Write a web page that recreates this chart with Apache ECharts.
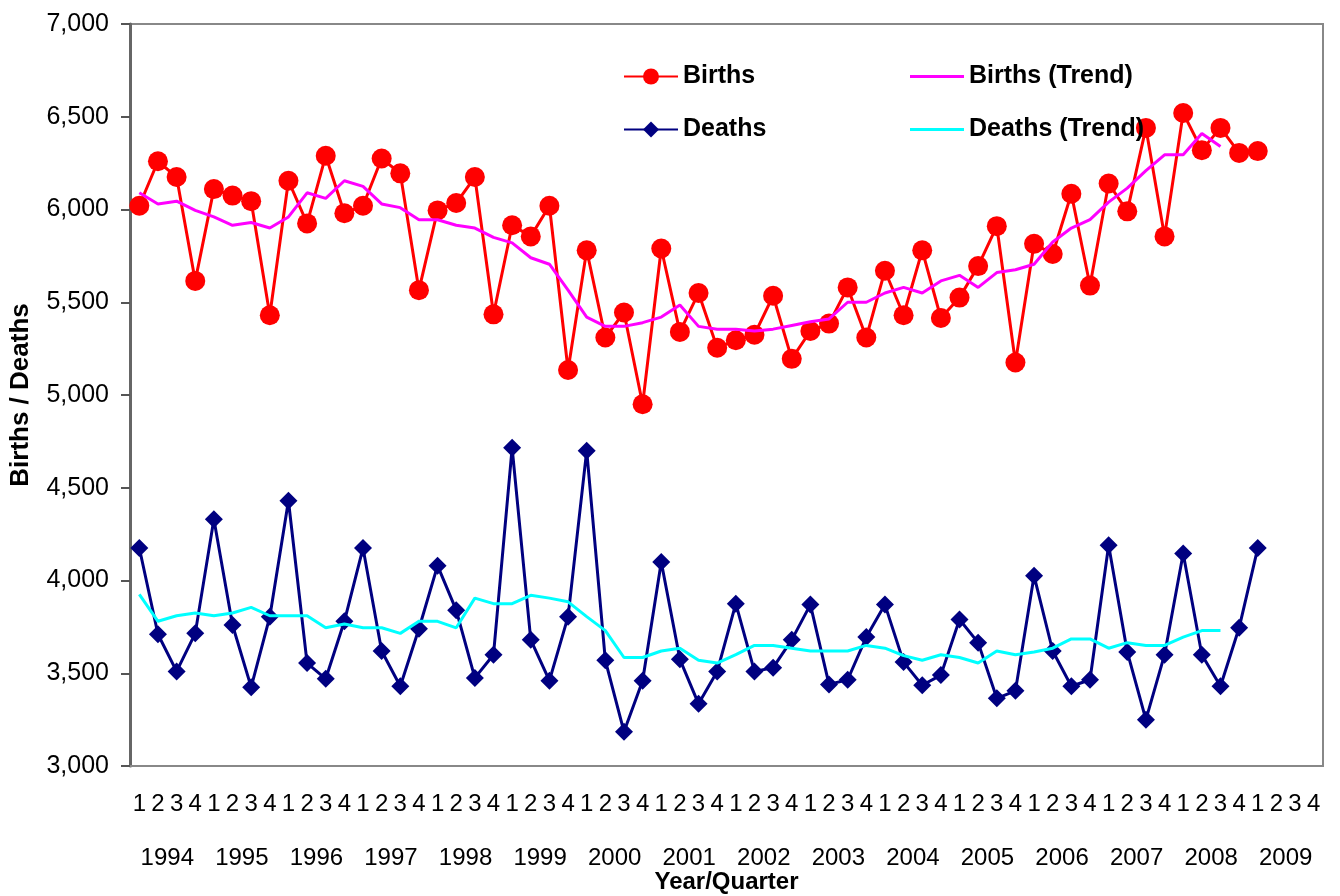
<!DOCTYPE html>
<html>
<head>
<meta charset="utf-8">
<script src="https://cdn.jsdelivr.net/npm/echarts@6/dist/echarts.min.js"></script>
<style>html,body{margin:0;padding:0;background:#fff}#c{width:1340px;height:896px}</style>
</head>
<body>
<div id="c"></div>
<script>
const years = ['1994','1995','1996','1997','1998','1999','2000','2001','2002','2003','2004','2005','2006','2007','2008','2009'];
const quarters = ['1','2','3','4'];
const yTicks = [3000, 3500, 4000, 4500, 5000, 5500, 6000, 6500, 7000];

const births = [6020,6260,6175,5615,6110,6075,6045,5430,6155,5925,6290,5980,6020,6275,6195,5565,5995,6035,6175,5435,5915,5855,6020,5135,5780,5310,5445,4950,5790,5340,5550,5255,5295,5325,5535,5195,5345,5385,5580,5310,5670,5430,5780,5415,5525,5695,5910,5175,5815,5760,6085,5590,6140,5990,6440,5855,6520,6320,6440,6305,6315];
const deaths = [4175,3710,3510,3715,4330,3760,3425,3805,4430,3555,3470,3780,4175,3620,3430,3740,4080,3840,3475,3600,4715,3680,3460,3805,4700,3570,3185,3460,4100,3575,3335,3510,3875,3510,3530,3680,3870,3440,3465,3695,3870,3560,3435,3490,3790,3665,3365,3405,4025,3620,3430,3465,4190,3615,3250,3600,4145,3600,3430,3745,4175];
const birthsTrend = [6090,6030,6045,5995,5960,5915,5930,5900,5960,6090,6060,6155,6125,6030,6010,5945,5945,5915,5900,5850,5820,5740,5705,5565,5420,5370,5370,5390,5420,5485,5370,5355,5355,5345,5355,5375,5395,5410,5500,5500,5550,5580,5550,5615,5645,5580,5660,5675,5705,5825,5900,5945,6040,6115,6210,6295,6295,6410,6340];
const deathsTrend = [3925,3780,3810,3825,3810,3825,3855,3810,3810,3810,3745,3765,3745,3745,3715,3780,3780,3745,3905,3875,3875,3920,3905,3885,3805,3730,3585,3585,3620,3635,3570,3555,3600,3650,3650,3635,3620,3620,3620,3650,3635,3595,3570,3600,3585,3555,3620,3600,3615,3635,3685,3685,3635,3665,3650,3650,3695,3730,3730];

const categories = [];
years.forEach(y => quarters.forEach(q => categories.push(y + ' Q' + q)));

const FONT = 'Liberation Sans, Arial, sans-serif';
const chart = echarts.init(document.getElementById('c'), null, {renderer: 'canvas'});
const option = {
  backgroundColor: '#fff',
  animation: false,
  textStyle: {fontFamily: FONT},
  grid: {left: 130, right: 17, top: 24, bottom: 130, containLabel: false, outerBoundsMode: 'none',
    show: true, borderColor: '#888', borderWidth: 2, backgroundColor: 'transparent'},
  legend: [
    {
      data: ['Births', 'Deaths'], orient: 'vertical', left: 618, top: 59,
      itemWidth: 54, itemHeight: 20, itemGap: 28,
      textStyle: {fontFamily: FONT, fontSize: 25, fontWeight: 'bold', color: '#000'}
    },
    {
      data: ['Births (Trend)', 'Deaths (Trend)'], orient: 'vertical', left: 905, top: 59,
      icon: 'rect', itemWidth: 54, itemHeight: 3, itemGap: 28,
      textStyle: {fontFamily: FONT, fontSize: 25, fontWeight: 'bold', color: '#000'}
    }
  ],
  xAxis: [
    {
      type: 'category', data: categories, boundaryGap: true, position: 'bottom',
      axisLine: {show: true, lineStyle: {color: '#888', width: 2}},
      axisTick: {show: false},
      axisLabel: {interval: 0, margin: 26, fontFamily: FONT, fontSize: 24, color: '#000',
        formatter: v => v.split(' Q')[1]},
      splitLine: {show: false}
    },
    {
      type: 'category', data: years, boundaryGap: true, position: 'bottom', offset: 54,
      axisLine: {show: false}, axisTick: {show: false},
      axisLabel: {interval: 0, margin: 26, fontFamily: FONT, fontSize: 24, color: '#000'},
      splitLine: {show: false},
      name: 'Year/Quarter', nameLocation: 'middle', nameGap: 50, nameMoveOverlap: false,
      nameTextStyle: {fontFamily: FONT, fontSize: 24, fontWeight: 'bold', color: '#000'}
    }
  ],
  yAxis: {
    type: 'value', min: yTicks[0], max: yTicks[yTicks.length - 1], interval: 500,
    axisLine: {show: true, lineStyle: {color: '#666', width: 3}},
    axisTick: {show: true, inside: false, length: 9, lineStyle: {color: '#555', width: 2}},
    axisLabel: {margin: 21, fontFamily: FONT, fontSize: 25, color: '#000',
      formatter: v => v.toLocaleString('en-US')},
    splitLine: {show: false},
    name: 'Births / Deaths', nameLocation: 'middle', nameGap: 96, nameMoveOverlap: false,
    nameTextStyle: {fontFamily: FONT, fontSize: 26, fontWeight: 'bold', color: '#000'}
  },
  series: [
    {
      name: 'Births', type: 'line', data: births, xAxisIndex: 0,
      symbol: 'circle', symbolSize: 20, showAllSymbol: true,
      lineStyle: {color: '#FF0000', width: 3}, itemStyle: {color: '#FF0000'}, z: 2
    },
    {
      name: 'Deaths', type: 'line', data: deaths, xAxisIndex: 0,
      symbol: 'diamond', symbolSize: 18, showAllSymbol: true,
      lineStyle: {color: '#000080', width: 3}, itemStyle: {color: '#000080'}, z: 2
    },
    {
      name: 'Births (Trend)', type: 'line', data: birthsTrend, xAxisIndex: 0,
      symbol: 'none', lineStyle: {color: '#FF00FF', width: 3}, itemStyle: {color: '#FF00FF'}, z: 3
    },
    {
      name: 'Deaths (Trend)', type: 'line', data: deathsTrend, xAxisIndex: 0,
      symbol: 'none', lineStyle: {color: '#00FFFF', width: 3}, itemStyle: {color: '#00FFFF'}, z: 3
    }
  ]
};
chart.setOption(option);
</script>
</body>
</html>
